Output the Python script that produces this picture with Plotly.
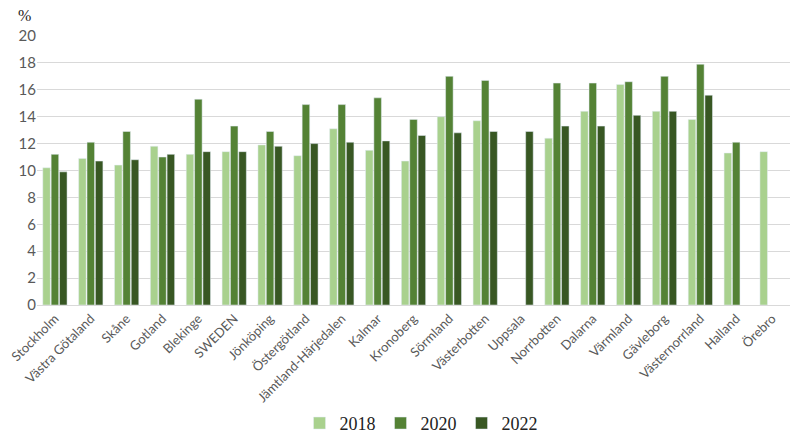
import plotly.graph_objects as go

regions = ["Stockholm", "Västra Götaland", "Skåne", "Gotland", "Blekinge", "SWEDEN",
           "Jönköping", "Östergötland", "Jämtland-Härjedalen", "Kalmar", "Kronoberg",
           "Sörmland", "Västerbotten", "Uppsala", "Norrbotten", "Dalarna", "Värmland",
           "Gävleborg", "Västernorrland", "Halland", "Örebro"]

y2018 = [10.2, 10.9, 10.4, 11.8, 11.2, 11.4, 11.9, 11.1, 13.1, 11.5, 10.7,
         14.0, 13.7, None, 12.4, 14.4, 16.4, 14.4, 13.8, 11.3, 11.4]
y2020 = [11.2, 12.1, 12.9, 11.0, 15.3, 13.3, 12.9, 14.9, 14.9, 15.4, 13.8,
         17.0, 16.7, None, 16.5, 16.5, 16.6, 17.0, 17.9, 12.1, None]
y2022 = [9.9, 10.7, 10.8, 11.2, 11.4, 11.4, 11.8, 12.0, 12.1, 12.2, 12.6,
         12.8, 12.9, 12.9, 13.3, 13.3, 14.1, 14.4, 15.6, None, None]

fig = go.Figure()
fig.add_trace(go.Bar(x=regions, y=y2018, name="2018", marker_color="#a9d18e"))
fig.add_trace(go.Bar(x=regions, y=y2020, name="2020", marker_color="#548235"))
fig.add_trace(go.Bar(x=regions, y=y2022, name="2022", marker_color="#385723"))

fig.update_layout(
    width=800, height=438,
    margin=dict(l=29, r=18, t=28, b=141, autoexpand=False),
    plot_bgcolor="white", paper_bgcolor="white",
    barmode="group", bargap=0.3, bargroupgap=0.1,
    font=dict(family="Lato", color="#595959", size=14),
    legend=dict(orientation="h", x=0.51, xanchor="center", y=-0.44, yanchor="middle",
                font=dict(family="Liberation Serif", size=18, color="#222222"),
                itemwidth=30, traceorder="normal"),
    annotations=[dict(text="%", x=0, xref="paper", xanchor="right", xshift=-4,
                      y=20, yref="y", yshift=21, showarrow=False,
                      font=dict(family="Liberation Serif", size=16, color="#222222"))],
)
fig.update_yaxes(range=[0, 20], dtick=2, showgrid=True, gridcolor="#d9d9d9",
                 zeroline=False, ticks="", tickfont=dict(size=15), automargin=False)
fig.update_xaxes(tickangle=-45, showline=True, linecolor="#d9d9d9", ticks="",
                 tickfont=dict(size=13), automargin=False)

fig.write_html("out.html")
